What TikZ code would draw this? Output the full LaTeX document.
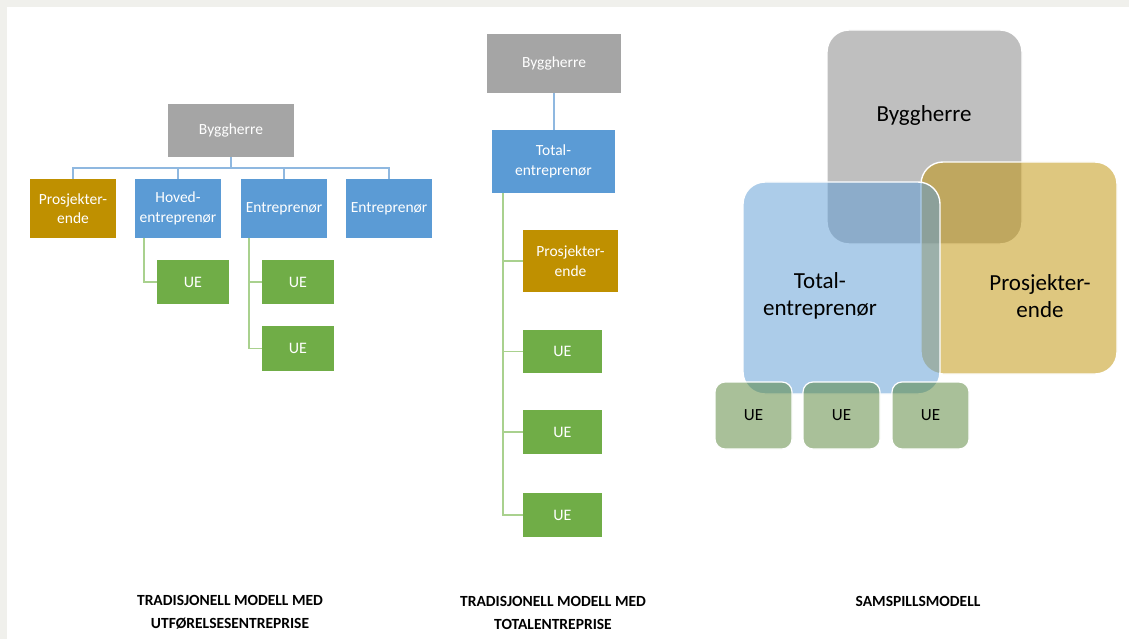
\documentclass[tikz,border=0pt]{standalone}
\usepackage{fontspec}
\setmainfont{Carlito}
\definecolor{frame}{HTML}{F0F0EC}
\definecolor{cgray}{HTML}{A5A5A5}
\definecolor{cgold}{HTML}{BF9000}
\definecolor{cblue}{HTML}{5B9BD5}
\definecolor{cgreen}{HTML}{70AD47}
\definecolor{cdgreen}{HTML}{548235}
\definecolor{lgreen}{HTML}{A9D18E}
\definecolor{lblue}{HTML}{8FB8E0}
\tikzset{
  flat/.style={inner sep=0pt, outer sep=0pt, text=white, align=center,
    font=\fontsize{15.5}{19.5}\selectfont},
  graybox/.style={flat, fill=cgray},
  goldbox/.style={flat, fill=cgold},
  bluebox/.style={flat, fill=cblue},
  greenbox/.style={flat, fill=cgreen, font=\fontsize{16}{19}\selectfont},
  bline/.style={draw=lblue, line width=1.3pt},
  gline/.style={draw=lgreen, line width=1.3pt},
  soft/.style={inner sep=0pt, outer sep=0pt, draw=white, line width=1.4pt,
    rounded corners=22pt, fill opacity=0.7},
  big/.style={align=center, text=black, font=\fontsize{23}{27}\selectfont},
  ue/.style={inner sep=0pt, outer sep=0pt, draw=white, line width=1.2pt,
    rounded corners=10pt, fill=cdgreen, fill opacity=0.5, text opacity=1,
    text=black, font=\fontsize{17}{20}\selectfont},
  caption/.style={align=center, text=black, font=\bfseries\fontsize{15.5}{23}\selectfont}
}
\begin{document}
\begin{tikzpicture}[x=1pt,y=-1pt]
\useasboundingbox (0,0) rectangle (1129,639);
\fill[frame] (0,0) rectangle (1129,639);
\fill[white] (7,7) rectangle (1129,639);

% ---------- Left: tradisjonell modell med utfoerelsesentreprise
\node[graybox, minimum width=126pt, minimum height=53pt] (lb) at (231,130.5) {Byggherre};
\node[goldbox, minimum width=86pt, minimum height=59pt] (lp) at (73,208.5) {Prosjekter-\\ende};
\node[bluebox, minimum width=86pt, minimum height=59pt] (lh) at (178,208.5) {Hoved-\\entreprenør};
\node[bluebox, minimum width=86pt, minimum height=59pt] (le1) at (284,208.5) {Entreprenør};
\node[bluebox, minimum width=86pt, minimum height=59pt] (le2) at (389,208.5) {Entreprenør};
\node[greenbox, minimum width=72pt, minimum height=44pt] (lu1) at (193,282) {UE};
\node[greenbox, minimum width=72pt, minimum height=44pt] (lu2) at (298,282) {UE};
\node[greenbox, minimum width=72pt, minimum height=45pt] (lu3) at (298,348.5) {UE};

\coordinate (lbar) at (231,168);
\draw[bline] (lb.south) -- (lbar);
\draw[bline] (lp.north) -- (lp.north |- lbar) -- (le2.north |- lbar) -- (le2.north);
\draw[bline] (lh.north) -- (lh.north |- lbar);
\draw[bline] (le1.north) -- (le1.north |- lbar);

\coordinate (lhv) at (144,238);
\coordinate (lev) at (249,238);
\draw[gline] (lhv) |- (lu1.west);
\draw[gline] (lev) |- (lu3.west);
\draw[gline] (lu2.west) -- (lu2.west -| lev);

% ---------- Middle: tradisjonell modell med totalentreprise
\node[graybox, minimum width=134pt, minimum height=59pt] (mb) at (554,63.5) {Byggherre};
\node[bluebox, minimum width=123pt, minimum height=63pt] (mt) at (553.5,161.5) {Total-\\entreprenør};
\node[goldbox, minimum width=95pt, minimum height=62pt] (mp) at (570.5,261) {Prosjekter-\\ende};
\node[greenbox, minimum width=79pt, minimum height=43pt] (mu1) at (562.5,351.5) {UE};
\node[greenbox, minimum width=79pt, minimum height=44pt] (mu2) at (562.5,432) {UE};
\node[greenbox, minimum width=79pt, minimum height=44pt] (mu3) at (562.5,515) {UE};

\draw[bline] (mb.south) -- (mb.south |- mt.north);
\coordinate (mv) at (503,193);
\draw[gline] (mv) |- (mu3.west);
\draw[gline] (mp.west) -- (mp.west -| mv);
\draw[gline] (mu1.west) -- (mu1.west -| mv);
\draw[gline] (mu2.west) -- (mu2.west -| mv);

% ---------- Right: samspillsmodell
\node[soft, fill=cgray, minimum width=195pt, minimum height=214pt] (rb) at (924.5,137) {};
\node[soft, fill=cgold, fill opacity=0.5, minimum width=196pt, minimum height=212pt] (rp) at (1019,268) {};
\node[soft, fill=cblue, fill opacity=0.5, minimum width=197pt, minimum height=212pt] (rt) at (841.5,288) {};
\node[ue, minimum width=77pt, minimum height=67pt] (ru1) at (753.5,415.5) {UE};
\node[ue, minimum width=77pt, minimum height=67pt] (ru2) at (841.5,415.5) {UE};
\node[ue, minimum width=77pt, minimum height=67pt] (ru3) at (930.5,415.5) {UE};
\node[big] (rbt) at (924,115) {Byggherre};
\node[big] (rtt) at (820,296) {Total-\\entreprenør};
\node[big] (rpt) at (1040,296) {Prosjekter-\\ende};

% ---------- Captions
\node[caption] (c1) at (230,612.5) {TRADISJONELL MODELL MED\\UTFØRELSESENTREPRISE};
\node[caption] (c2) at (553,612.5) {TRADISJONELL MODELL MED\\TOTALENTREPRISE};
\node[caption] (c3) at (918,601) {SAMSPILLSMODELL};
\end{tikzpicture}
\end{document}
